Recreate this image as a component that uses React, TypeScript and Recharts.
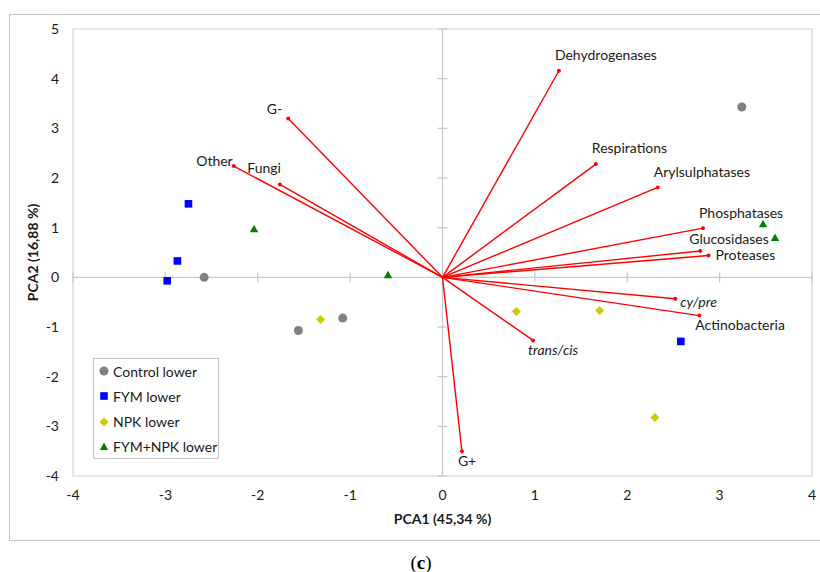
import React from 'react'
import { ScatterChart, Scatter, XAxis, YAxis, ReferenceLine, ReferenceDot, ReferenceArea } from 'recharts'

const X_TICKS = [-4, -3, -2, -1, 0, 1, 2, 3, 4]
const Y_TICKS = [-4, -3, -2, -1, 0, 1, 2, 3, 4, 5]

// sample scores
const controlLower = [{ x: -2.58, y: 0.0 }, { x: -1.56, y: -1.07 }, { x: -1.08, y: -0.82 }, { x: 3.24, y: 3.43 }]
const fymLower = [{ x: -2.75, y: 1.48 }, { x: -2.87, y: 0.33 }, { x: -2.98, y: -0.07 }, { x: 2.58, y: -1.29 }]
const npkLower = [{ x: -1.32, y: -0.85 }, { x: 0.8, y: -0.69 }, { x: 1.7, y: -0.67 }, { x: 2.3, y: -2.82 }]
const fymNpkLower = [{ x: -2.04, y: 0.97 }, { x: -0.59, y: 0.04 }, { x: 3.47, y: 1.07 }, { x: 3.6, y: 0.79 }]

// variable loadings (vectors from origin)
const loadingNames = ['Dehydrogenases', 'Respirations', 'Arylsulphatases', 'Phosphatases', 'Glucosidases', 'Proteases', 'cy/pre', 'Actinobacteria', 'trans/cis', 'G+', 'G-', 'Other', 'Fungi']
const loadingX = [1.26, 1.66, 2.33, 2.82, 2.79, 2.88, 2.52, 2.78, 0.98, 0.21, -1.67, -2.26, -1.76]
const loadingY = [4.16, 2.28, 1.81, 0.99, 0.53, 0.44, -0.43, -0.77, -1.27, -3.5, 3.2, 2.24, 1.87]

const loadings = loadingNames.map((name, i) => ({ name, x: loadingX[i], y: loadingY[i] }))

const FONT = 'Lato, "Open Sans", sans-serif'

const labelPlace: Record<string, { dx: number; dy: number; anchor?: string; italic?: boolean }> = {
  Dehydrogenases: { dx: -4, dy: -16 },
  Respirations: { dx: -4, dy: -16 },
  Arylsulphatases: { dx: -4, dy: -15 },
  Phosphatases: { dx: -4, dy: -15 },
  Glucosidases: { dx: -11, dy: -12 },
  Proteases: { dx: 7, dy: 0 },
  'cy/pre': { dx: 5, dy: 3, italic: true },
  Actinobacteria: { dx: -4, dy: 10 },
  'trans/cis': { dx: -5, dy: 10, italic: true },
  'G+': { dx: -4, dy: 10 },
  'G-': { dx: -6, dy: -9, anchor: 'end' },
  Other: { dx: -1, dy: -5, anchor: 'end' },
  Fungi: { dx: 1, dy: -16, anchor: 'end' },
}

const LoadingTip = (props: any) => {
  const { cx, cy, payload } = props
  const p = labelPlace[payload.name] || { dx: 4, dy: -10 }
  return (
    <g>
      <circle cx={cx} cy={cy} r={2} fill="#ff0000" />
      <text x={cx + p.dx} y={cy + p.dy} dy="0.35em" textAnchor={p.anchor || 'start'}
        fontStyle={p.italic ? 'italic' : 'normal'} fontSize={14} fontFamily={FONT} fill="#1a1a1a">
        {payload.name}
      </text>
    </g>
  )
}

const Circle = ({ cx, cy }: any) => <circle cx={cx} cy={cy} r={4.5} fill="#808080" />
const Square = ({ cx, cy }: any) => <rect x={cx - 3.8} y={cy - 3.8} width={7.6} height={7.6} fill="#0000ff" />
const Diamond = ({ cx, cy }: any) => <polygon points={`${cx},${cy - 4.5} ${cx + 4.5},${cy} ${cx},${cy + 4.5} ${cx - 4.5},${cy}`} fill="#cccc00" />
const Triangle = ({ cx, cy }: any) => <polygon points={`${cx},${cy - 4.5} ${cx + 4.2},${cy + 3} ${cx - 4.2},${cy + 3}`} fill="#008000" />

const xTickMark = ({ cx, cy }: any) => <line x1={cx} y1={cy - 5} x2={cx} y2={cy + 5} stroke="#c8c8c8" strokeWidth={1.2} />
const yTickMark = ({ cx, cy }: any) => <line x1={cx - 5} y1={cy} x2={cx + 5} y2={cy} stroke="#c8c8c8" strokeWidth={1.2} />

const legendItems = [
  { name: 'Control lower', Mark: Circle },
  { name: 'FYM lower', Mark: Square },
  { name: 'NPK lower', Mark: Diamond },
  { name: 'FYM+NPK lower', Mark: Triangle },
]

export default function App() {
  return (
    <div style={{ position: 'absolute', left: 0, top: 0, width: 820, height: 572, background: '#fff', overflow: 'hidden', fontFamily: FONT }}>
      <div style={{ position: 'absolute', left: 9, top: 14, width: 830, height: 527, border: '1px solid #c4c4c4', boxSizing: 'border-box' }} />
      <ScatterChart width={820} height={572} margin={{ top: 29, right: 8, bottom: 66, left: 0 }} style={{ position: 'absolute', left: 0, top: 0 }}>
        <XAxis type="number" dataKey="x" domain={[-4, 4]} ticks={X_TICKS} allowDataOverflow axisLine={false} tickLine={false}
          height={30} tickMargin={8} tick={{ fontSize: 14, fill: '#1a1a1a', fontFamily: FONT }}
          label={{
            content: ({ viewBox }: any) => (
              <text x={viewBox.x + viewBox.width / 2} y={viewBox.y + 43} dy="0.35em" textAnchor="middle" fontWeight="bold" fontSize={14} fontFamily={FONT} fill="#1a1a1a">
                PCA1 (45,34 %)
              </text>
            ),
          }} />
        <YAxis type="number" dataKey="y" domain={[-4, 5]} ticks={Y_TICKS} allowDataOverflow axisLine={false} tickLine={false}
          width={73} tickMargin={8} tick={{ fontSize: 14, fill: '#1a1a1a', fontFamily: FONT }}
          label={{
            content: ({ viewBox }: any) => {
              const cy = viewBox.y + viewBox.height / 2
              return (
                <text x={33} y={cy} dy="0.35em" textAnchor="middle" transform={`rotate(-90, 33, ${cy})`} fontWeight="bold" fontSize={14} fontFamily={FONT} fill="#1a1a1a">
                  PCA2 (16,88 %)
                </text>
              )
            },
          }} />
        <ReferenceArea x1={-4} x2={4} y1={-4} y2={5} fill="none" stroke="#d4d4d4" strokeWidth={1.2} />
        <ReferenceLine x={0} stroke="#c8c8c8" strokeWidth={1.2} />
        <ReferenceLine y={0} stroke="#c8c8c8" strokeWidth={1.2} />
        {X_TICKS.filter((t) => t !== 0).map((t) => (
          <ReferenceDot key={'xt' + t} x={t} y={0} r={0} shape={xTickMark} />
        ))}
        {Y_TICKS.filter((t) => t !== 0).map((t) => (
          <ReferenceDot key={'yt' + t} x={0} y={t} r={0} shape={yTickMark} />
        ))}
        <Scatter name="Control lower" data={controlLower} shape={Circle} isAnimationActive={false} />
        <Scatter name="FYM lower" data={fymLower} shape={Square} isAnimationActive={false} />
        <Scatter name="NPK lower" data={npkLower} shape={Diamond} isAnimationActive={false} />
        <Scatter name="FYM+NPK lower" data={fymNpkLower} shape={Triangle} isAnimationActive={false} />
        {loadings.map((l) => (
          <ReferenceLine key={l.name} segment={[{ x: 0, y: 0 }, { x: l.x, y: l.y }]} stroke="#ff0000" strokeWidth={1.4} />
        ))}
        <Scatter name="loadings" data={loadings} shape={LoadingTip} isAnimationActive={false} />
      </ScatterChart>
      <div style={{ position: 'absolute', left: 93, top: 358, width: 126, height: 101, border: '1px solid #c4c4c4', boxSizing: 'border-box', background: '#fff' }}>
        {legendItems.map(({ name, Mark }, i) => (
          <div key={name} style={{ position: 'absolute', left: 0, top: 2 + i * 25.3, height: 20, display: 'flex', alignItems: 'center' }}>
            <svg width={20} height={20} style={{ display: 'block' }}>
              <Mark cx={10} cy={10} />
            </svg>
            <span style={{ fontSize: 14, color: '#1a1a1a', marginLeft: -1, whiteSpace: 'nowrap' }}>{name}</span>
          </div>
        ))}
      </div>
      <div style={{ position: 'absolute', left: 0, width: 842, top: 552, textAlign: 'center', fontFamily: '"Liberation Serif", "DejaVu Serif", serif', fontSize: 19, color: '#000' }}>
        (<b>c</b>)
      </div>
    </div>
  )
}
